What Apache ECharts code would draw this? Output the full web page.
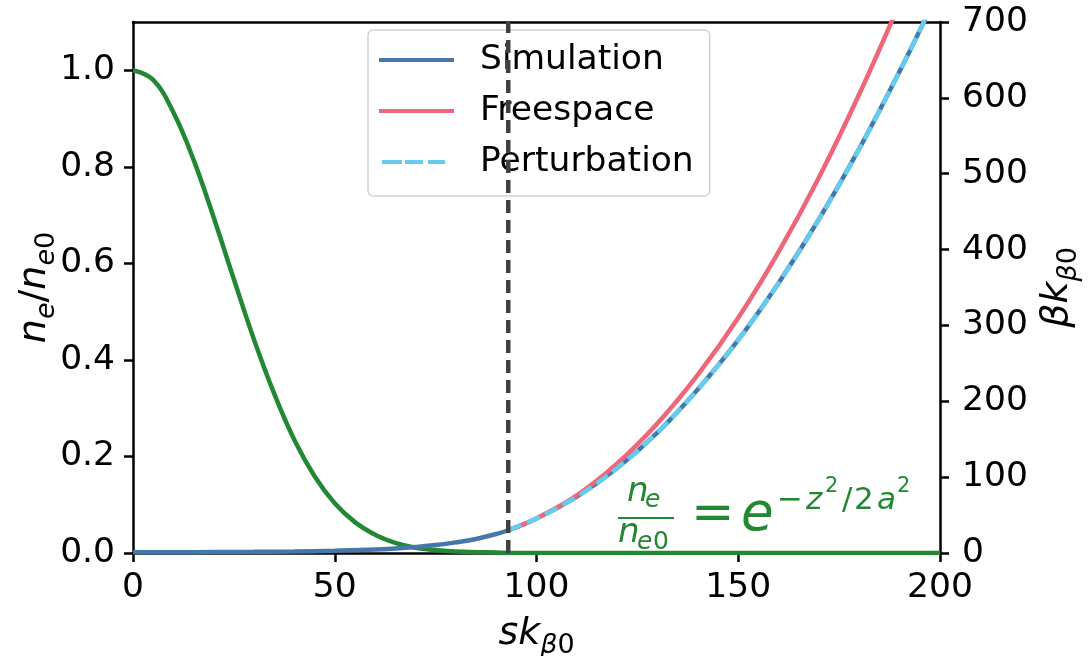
<!DOCTYPE html>
<html>
<head>
<meta charset="utf-8">
<script src="https://cdn.jsdelivr.net/npm/echarts@6/dist/echarts.min.js"></script>
<style>
html,body{margin:0;padding:0;background:#fff;overflow:hidden;}
#chart{width:1090px;height:656px;}
</style>
</head>
<body>
<div id="chart"></div>
<script>
// ---- data ----
const densityS = [0,5,10,15,20,25,30,35,40,45,50,55,60,65,70,75,80,90,100,120,140,160,180,200];
const densityValues = [1.0,0.980,0.913,0.815,0.695,0.567,0.442,0.330,0.234,0.159,0.103,0.064,0.038,0.021,0.011,0.006,0.003,0.001,0,0,0,0,0,0];

const simS = [0,10,20,30,40,50,60,65,70,75,80,85,90,93,100,110,120,130,140,150,160,170,180,190,196,200];
const simValues = [1,1,1.2,1.5,2,3,4.5,6,8,10.5,14,18.5,25,30,45.6,74.4,112,159,216,281,356,440,533,635,700,746];

const freeS = [93,100,110,120,130,140,150,160,170,180,190];
const freeValues = [30,45.6,76,118,171,235,310,397,495,605,725];

const pertS = [93,100,110,120,130,140,150,160,170,180,190,196,200];
const pertValues = [30,45.6,74.4,112,159,216,281,356,440,533,635,700,746];

const matchS = 93;           // vertical dashed line position
const xTicks = [0,50,100,150,200];
const leftTicks = [0,0.2,0.4,0.6,0.8,1.0];
const rightTicks = [0,100,200,300,400,500,600,700];
const legendNames = ['Simulation','Freespace','Perturbation'];

const FONT = 'DejaVu Sans';
const C_BLUE = '#4477AA', C_RED = '#EE6677', C_CYAN = '#66CCEE', C_GREEN = '#228833', C_VLINE = '#404040';
const LW = 4.5;

function pairs(xs, ys){ return xs.map((x,i)=>[x, ys[i]]); }

const chart = echarts.init(document.getElementById('chart'), null, {renderer:'canvas'});

const axisLineStyle = {color:'#000', width:2.5};
const tickStyle = {show:true, inside:false, length:9, lineStyle:{color:'#000', width:2.5}};
const labelStyle = {color:'#000', fontFamily:FONT, fontSize:34.5};

const nameRich = {
  i:{fontFamily:FONT, fontStyle:'italic', fontSize:38, lineHeight:50, color:'#000'},
  n:{fontFamily:FONT, fontSize:38, lineHeight:50, color:'#000'},
  si:{fontFamily:FONT, fontStyle:'italic', fontSize:27, lineHeight:30, verticalAlign:'bottom', color:'#000'},
  sn:{fontFamily:FONT, fontSize:27, lineHeight:30, verticalAlign:'bottom', color:'#000'}
};

// green formula pieces: [text, left, baseline, size, italic]
const formulaPieces = [
  ['n', 627, 502, 34, true],
  ['e', 645, 508, 25, true],
  ['n', 618, 543, 34, true],
  ['e', 637, 550, 25, true],
  ['0', 653, 550, 25, false],
  ['=', 691, 531, 52, false],
  ['e', 741, 532, 53, true],
  ['\u2212', 777, 510, 31, false],
  ['z', 806, 510, 31, true],
  ['2', 825, 493, 21, false],
  ['/', 842, 510, 31, false],
  ['2', 854, 510, 31, false],
  ['a', 877, 510, 31, true],
  ['2', 897, 493, 21, false]
];

function txt(p){
  return {
    type:'text', x:p[1], y:p[2] - 0.3*p[3], z:100,
    style:{text:p[0], fill:C_GREEN, fontFamily:FONT, fontSize:p[3],
      fontStyle: p[4] ? 'italic' : 'normal', align:'left', verticalAlign:'middle'}
  };
}

const solidIcon = 'path://M0,0H75V4H0Z';
const dashIcon = 'path://M0,2L0,2M3,0H23V4H3ZM26,0H44V4H26ZM49,0H66V4H49ZM75,2L75,2';

const option = {
  animation:false,
  backgroundColor:'#fff',
  grid:{left:133, right:150, top:22, bottom:103, containLabel:false, outerBoundsMode:'none'},
  legend:{
    data:[
      {name:legendNames[0], icon:solidIcon},
      {name:legendNames[1], icon:solidIcon},
      {name:legendNames[2], icon:dashIcon}
    ],
    orient:'vertical',
    left:368, top:30,
    padding:[12,16,16,11],
    itemGap:15,
    itemWidth:75, itemHeight:4,
    symbolKeepAspect:false,
    itemStyle:{borderWidth:0},
    backgroundColor:'rgba(255,255,255,0.8)',
    borderColor:'#d3d3d3', borderWidth:1.5, borderRadius:5,
    formatter: name => '{g|}' + name,
    textStyle:{
      fontFamily:FONT, fontSize:34.5, lineHeight:36, color:'#000',
      rich:{ g:{width:21} }
    }
  },
  xAxis:[{
    type:'value', min:0, max:200, interval:50, position:'bottom',
    axisLine:{show:true, onZero:false, lineStyle:axisLineStyle},
    axisTick:Object.assign({customValues:xTicks}, tickStyle),
    axisLabel:Object.assign({margin:18, customValues:xTicks, formatter: v => String(v)}, labelStyle),
    splitLine:{show:false},
    name:'{i|sk}{si|β}{sn|0}', nameLocation:'middle', nameGap:56, nameMoveOverlap:false,
    nameTextStyle:{rich:nameRich}
  },{
    type:'value', min:0, max:200, position:'top',
    axisLine:{show:true, onZero:false, lineStyle:axisLineStyle},
    axisTick:{show:false}, axisLabel:{show:false}, splitLine:{show:false}
  }],
  yAxis:[{
    type:'value', min:0, max:1.1, position:'left',
    axisLine:{show:true, onZero:false, lineStyle:axisLineStyle},
    axisTick:Object.assign({customValues:leftTicks}, tickStyle),
    axisLabel:Object.assign({margin:18, customValues:leftTicks, formatter: v => v.toFixed(1)}, labelStyle),
    splitLine:{show:false},
    name:'{i|n}{si|e}{n|/}{i|n}{si|e}{sn|0}', nameLocation:'middle', nameRotate:90, nameGap:73, nameMoveOverlap:false,
    nameTextStyle:{rich:nameRich}
  },{
    type:'value', min:0, max:700, interval:100, position:'right',
    axisLine:{show:true, onZero:false, lineStyle:axisLineStyle},
    axisTick:Object.assign({customValues:rightTicks}, tickStyle),
    axisLabel:Object.assign({margin:22, customValues:rightTicks, formatter: v => String(v)}, labelStyle),
    splitLine:{show:false},
    name:'{i|βk}{si|β}{sn|0}', nameLocation:'middle', nameRotate:90, nameGap:92, nameMoveOverlap:false,
    nameTextStyle:{rich:nameRich}
  }],
  series:[
    {name:'Density', type:'line', xAxisIndex:0, yAxisIndex:0, data:pairs(densityS, densityValues),
     showSymbol:false, symbol:'none', smooth:0.4,
     lineStyle:{color:C_GREEN, width:LW}, itemStyle:{color:C_GREEN}, z:2},
    {name:'Simulation', type:'line', xAxisIndex:0, yAxisIndex:1, data:pairs(simS, simValues),
     showSymbol:false, symbol:'none', smooth:0.4,
     lineStyle:{color:C_BLUE, width:LW}, itemStyle:{color:C_BLUE}, z:3},
    {name:'Freespace', type:'line', xAxisIndex:0, yAxisIndex:1, data:pairs(freeS, freeValues),
     showSymbol:false, symbol:'none', smooth:0.4,
     lineStyle:{color:C_RED, width:LW}, itemStyle:{color:C_RED}, z:4},
    {name:'Perturbation', type:'line', xAxisIndex:0, yAxisIndex:1, data:pairs(pertS, pertValues),
     showSymbol:false, symbol:'none', smooth:0.4,
     lineStyle:{color:C_CYAN, width:LW, type:[14,6]}, itemStyle:{color:C_CYAN}, z:5},
    {name:'match', type:'line', xAxisIndex:0, yAxisIndex:0, data:[[matchS,0],[matchS,1.1]],
     showSymbol:false, symbol:'none',
     lineStyle:{color:C_VLINE, width:LW, type:[13,7]}, itemStyle:{color:C_VLINE}, z:6}
  ],
  graphic: formulaPieces.map(txt).concat([
    {type:'line', z:100, shape:{x1:618, y1:518, x2:674, y2:518}, style:{stroke:C_GREEN, lineWidth:2}}
  ])
};
chart.setOption(option);
</script>
</body>
</html>
